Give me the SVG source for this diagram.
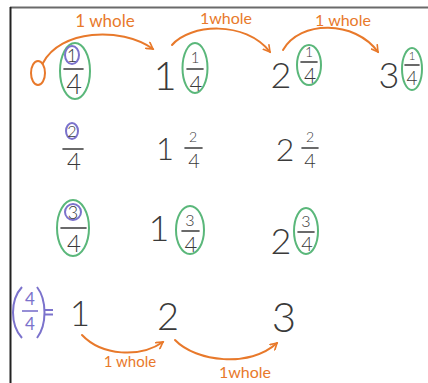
<svg xmlns="http://www.w3.org/2000/svg" width="428" height="383" viewBox="0 0 428 383">
<defs>
<style>
.d{font-family:Lato,"Open Sans","Liberation Sans",sans-serif;font-weight:300;fill:#3a3a3a;text-anchor:middle}
.o{font-family:Lato,"Open Sans","Liberation Sans",sans-serif;font-weight:400;fill:#e8792b;text-anchor:middle}
.bar{stroke:#3a3a3a;stroke-width:1.6;fill:none;stroke-linecap:round}
.g{stroke:#5ab77a;stroke-width:2;fill:none}
.p{stroke:#7b72cc;stroke-width:2;fill:none}
.pt{font-family:Lato,"Open Sans","Liberation Sans",sans-serif;fill:#7b72cc;text-anchor:middle}
.arc{stroke:#e8792b;stroke-width:2;fill:none;stroke-linecap:round}
</style>
<marker id="ah" viewBox="0 0 10 10" refX="8" refY="5" markerWidth="9" markerHeight="9" orient="auto" markerUnits="userSpaceOnUse">
<path d="M1 1 L8 5 L1 9" fill="none" stroke="#e8792b" stroke-width="1.8" stroke-linecap="round"/>
</marker>
</defs>
<rect width="428" height="383" fill="#fff"/>
<line x1="10" y1="7.5" x2="428" y2="7.5" stroke="#6a6a6a" stroke-width="2"/>
<line x1="10.5" y1="7" x2="10.5" y2="383" stroke="#222" stroke-width="2"/>

<g id="connectors">
<ellipse cx="38" cy="73" rx="7" ry="12" class="arc"/>
<path class="arc" d="M43 63 C60 30 120 26 153 49" marker-end="url(#ah)"/>
<path class="arc" d="M172 45 C190 24 245 20 270 52" marker-end="url(#ah)"/>
<path class="arc" d="M283 50 C300 20 355 20 378 52" marker-end="url(#ah)"/>
<path class="arc" d="M82 335 C102 356 140 358 163 342" marker-end="url(#ah)"/>
<path class="arc" d="M175 340 C196 362 250 368 277 343" marker-end="url(#ah)"/>
<text class="o" x="105" y="27" font-size="17">1 whole</text>
<text class="o" x="226" y="24" font-size="16">1whole</text>
<text class="o" x="343" y="26" font-size="16">1 whole</text>
<text class="o" x="130" y="367" font-size="15">1 whole</text>
<text class="o" x="245" y="378" font-size="16">1whole</text>
</g>

<g id="r1-f1">
<ellipse class="g" cx="75" cy="71" rx="15" ry="28"/>
<ellipse class="p" cx="72" cy="55" rx="7" ry="9"/>
<text class="d" x="72" y="62" font-size="18">1</text>
<line class="bar" x1="64" y1="69" x2="83" y2="69"/>
<text class="d" x="74" y="94" font-size="27">4</text>
</g>
<g id="r1-m1">
<text class="d" x="165" y="90" font-size="40">1</text>
<ellipse class="g" cx="195" cy="68" rx="12.5" ry="25"/>
<text class="d" x="195" y="63" font-size="15">1</text>
<line class="bar" x1="187" y1="69" x2="203" y2="69"/>
<text class="d" x="196" y="91" font-size="22">4</text>
</g>
<g id="r1-m2">
<text class="d" x="281" y="88" font-size="36">2</text>
<ellipse class="g" cx="309" cy="65" rx="12" ry="20"/>
<text class="d" x="309" y="57" font-size="14">1</text>
<line class="bar" x1="301" y1="62" x2="317" y2="62"/>
<text class="d" x="310" y="83" font-size="21">4</text>
</g>
<g id="r1-m3">
<text class="d" x="389" y="88" font-size="36">3</text>
<ellipse class="g" cx="412" cy="69" rx="10" ry="21"/>
<text class="d" x="412" y="60" font-size="12">1</text>
<line class="bar" x1="405" y1="65" x2="419" y2="65"/>
<text class="d" x="412" y="85" font-size="19">4</text>
</g>

<g id="r2-f">
<ellipse class="p" cx="72" cy="131" rx="6" ry="8"/>
<text class="d" x="72" y="137" font-size="16">2</text>
<line class="bar" x1="63" y1="149" x2="83" y2="149"/>
<text class="d" x="74" y="170" font-size="24">4</text>
</g>
<g id="r2-m1">
<text class="d" x="165" y="160" font-size="31">1</text>
<text class="d" x="193" y="142" font-size="14">2</text>
<line class="bar" x1="185" y1="148" x2="202" y2="148"/>
<text class="d" x="194" y="168" font-size="20">4</text>
</g>
<g id="r2-m2">
<text class="d" x="285" y="161" font-size="32">2</text>
<text class="d" x="310" y="142" font-size="14">2</text>
<line class="bar" x1="302" y1="148" x2="318" y2="148"/>
<text class="d" x="310" y="168" font-size="20">4</text>
</g>

<g id="r3-f">
<ellipse class="g" cx="73" cy="228" rx="16" ry="28"/>
<ellipse class="p" cx="73" cy="212" rx="8" ry="8"/>
<text class="d" x="73" y="219" font-size="18">3</text>
<line class="bar" x1="61" y1="228" x2="86" y2="228"/>
<text class="d" x="74" y="252" font-size="24">4</text>
</g>
<g id="r3-m1">
<text class="d" x="159" y="241" font-size="36">1</text>
<ellipse class="g" cx="190" cy="230" rx="14" ry="24"/>
<text class="d" x="190" y="226" font-size="16">3</text>
<line class="bar" x1="182" y1="231" x2="199" y2="231"/>
<text class="d" x="191" y="252" font-size="22">4</text>
</g>
<g id="r3-m2">
<text class="d" x="281" y="254" font-size="36">2</text>
<ellipse class="g" cx="306" cy="231" rx="12" ry="23"/>
<text class="d" x="306" y="227" font-size="16">3</text>
<line class="bar" x1="298" y1="232" x2="314" y2="232"/>
<text class="d" x="307" y="251" font-size="20">4</text>
</g>

<g id="r4-f">
<path class="p" d="M22 287 C10 300 10 325 22 338"/>
<path class="p" d="M37 287 C47 300 47 325 37 338"/>
<text class="pt" x="30" y="305" font-size="17">4</text>
<line x1="22" y1="311" x2="38" y2="311" stroke="#7b72cc" stroke-width="1.6"/>
<text class="pt" x="30" y="330" font-size="17">4</text>
<line x1="45" y1="310" x2="53" y2="310" stroke="#7b72cc" stroke-width="2"/>
<line x1="45" y1="314.5" x2="53" y2="314.5" stroke="#7b72cc" stroke-width="2"/>
</g>
<g id="r4-1"><text class="d" x="80" y="326" font-size="35">1</text></g>
<g id="r4-2"><text class="d" x="168" y="330" font-size="38">2</text></g>
<g id="r4-3"><text class="d" x="284" y="332" font-size="42">3</text></g>
</svg>
